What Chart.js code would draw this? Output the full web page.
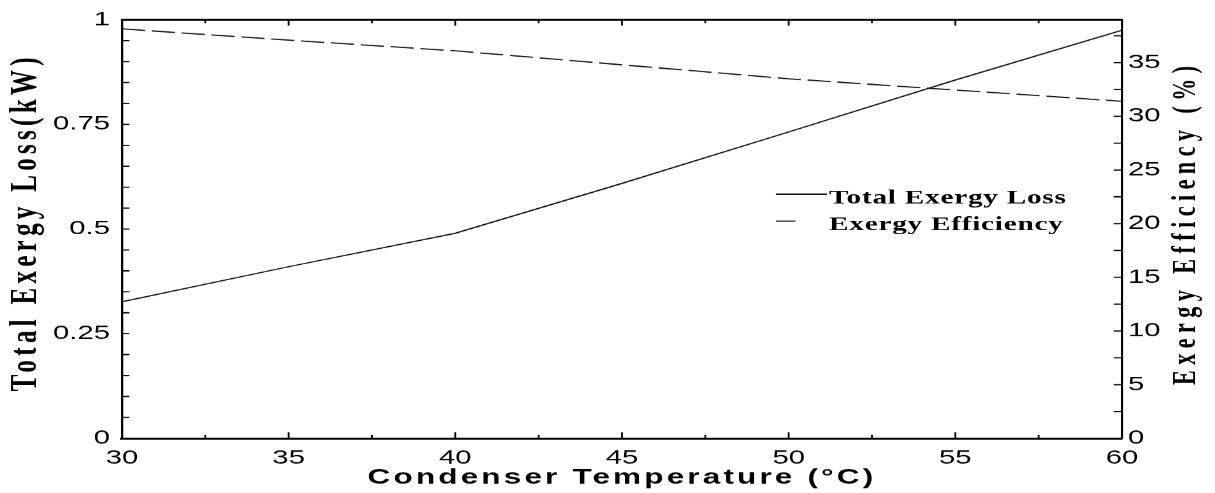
<!DOCTYPE html>
<html>
<head>
<meta charset="utf-8">
<title>Exergy vs Condenser Temperature</title>
<script src="https://cdn.jsdelivr.net/npm/chart.js@4.4.1/dist/chart.umd.min.js"></script>
<style>
  html, body { margin: 0; padding: 0; background: #fff; overflow: hidden; }
  /* the original figure is stretched sideways, so draw narrow and widen it */
  #wrap { width: 810px; height: 493px; transform: scaleX(1.5); transform-origin: 0 0; }
</style>
</head>
<body>
<div id="wrap"><canvas id="exergyChart" width="810" height="493"></canvas></div>
<script>
// data
const condenserTemps = [30, 35, 40, 45, 50, 55, 60];
const totalExergyLoss = [0.326, 0.410, 0.490, 0.609, 0.732, 0.856, 0.975];
const exergyEfficiency = [38.15, 37.1, 36.1, 34.8, 33.5, 32.45, 31.4];

const tempTicks = [30, 35, 40, 45, 50, 55, 60];
const lossTicks = [0, 0.25, 0.5, 0.75, 1];
const efficiencyTicks = [0, 5, 10, 15, 20, 25, 30, 35];

const tempRange = [30, 60];
const lossRange = [0, 1];
const efficiencyRange = [0, 39];

const xTitle = 'Condenser Temperature (°C)';
const yTitle = 'Total Exergy Loss(kW)';
const y1Title = 'Exergy Efficiency (%)';

const tickFont = { family: '"Liberation Sans", Arial, sans-serif', size: 19.5 };

// box on top, inward minor/major ticks, axis titles and legend (Matlab look)
const matlabFrame = {
  id: 'matlabFrame',
  afterDraw(chart) {
    const { ctx, chartArea: a, scales: { x, y, y1 } } = chart;
    ctx.save();
    ctx.strokeStyle = '#000';
    ctx.lineWidth = 2;
    ctx.beginPath();
    ctx.moveTo(a.left - 0.7, a.top);
    ctx.lineTo(a.right + 0.7, a.top);
    ctx.stroke();

    ctx.lineWidth = 1.2;
    ctx.beginPath();
    for (let v = x.min; v <= x.max + 1e-9; v += 2.5) {
      const px = x.getPixelForValue(v);
      const len = Math.abs(v % 5) < 1e-9 ? 6 : 3.5;
      ctx.moveTo(px, a.bottom);
      ctx.lineTo(px, a.bottom - len);
      ctx.moveTo(px, a.top);
      ctx.lineTo(px, a.top + len);
    }
    for (let v = y.min + 0.05; v < y.max - 1e-9; v += 0.05) {
      const py = y.getPixelForValue(v);
      ctx.moveTo(a.left, py);
      ctx.lineTo(a.left + 5, py);
    }
    for (let v = y1.min + 2.5; v < y1.max - 1e-9; v += 2.5) {
      const py = y1.getPixelForValue(v);
      ctx.moveTo(a.right, py);
      ctx.lineTo(a.right - 5.5, py);
    }
    ctx.stroke();

    ctx.fillStyle = '#000';
    // x title
    ctx.font = 'bold 21px "Liberation Sans", Arial, sans-serif';
    ctx.letterSpacing = '2.1px';
    ctx.textAlign = 'center';
    ctx.textBaseline = 'alphabetic';
    ctx.fillText(xTitle, (a.left + a.right) / 2, 483.5);

    // left title
    ctx.save();
    ctx.font = 'bold 25px "Liberation Serif", "Times New Roman", serif';
    ctx.letterSpacing = '4.3px';
    ctx.translate(24, 222);
    ctx.rotate(-Math.PI / 2);
    ctx.fillText(yTitle, 0, 0);
    ctx.restore();

    // right title
    ctx.save();
    ctx.font = 'bold 22px "Liberation Serif", "Times New Roman", serif';
    ctx.letterSpacing = '5.5px';
    ctx.translate(796.7, 222.5);
    ctx.rotate(-Math.PI / 2);
    ctx.fillText(y1Title, 0, 0);
    ctx.restore();

    // legend
    ctx.font = 'bold 19.5px "Liberation Serif", "Times New Roman", serif';
    ctx.letterSpacing = '0.5px';
    ctx.textAlign = 'left';
    chart.data.datasets.forEach((ds, i) => {
      const ly = 194 + i * 27;
      ctx.strokeStyle = ds.borderColor;
      ctx.lineWidth = ds.borderWidth;
      ctx.setLineDash(ds.borderDash ? [13, 40] : []);
      ctx.beginPath();
      ctx.moveTo(517.3, ly);
      ctx.lineTo(551.3, ly);
      ctx.stroke();
      ctx.fillText(ds.label, 552.7, ly + 9.3);
    });
    ctx.restore();
  }
};

const plainNumber = value => String(value);

new Chart(document.getElementById('exergyChart'), {
  type: 'line',
  data: {
    labels: condenserTemps,
    datasets: [
      {
        label: 'Total Exergy Loss',
        data: condenserTemps.map((t, i) => ({ x: t, y: totalExergyLoss[i] })),
        yAxisID: 'y',
        borderColor: '#111',
        borderWidth: 1.2,
        pointRadius: 0,
        fill: false,
        tension: 0
      },
      {
        label: 'Exergy Efficiency',
        data: condenserTemps.map((t, i) => ({ x: t, y: exergyEfficiency[i] })),
        yAxisID: 'y1',
        borderColor: '#111',
        borderWidth: 1.2,
        borderDash: [15.5, 4.5],
        pointRadius: 0,
        fill: false,
        tension: 0
      }
    ]
  },
  options: {
    responsive: false,
    devicePixelRatio: 1.5,
    animation: false,
    layout: { padding: { top: 17, left: 0, right: 0, bottom: 0 } },
    plugins: {
      legend: { display: false },
      tooltip: { enabled: false }
    },
    scales: {
      x: {
        type: 'linear',
        min: tempRange[0],
        max: tempRange[1],
        afterBuildTicks: s => { s.ticks = tempTicks.map(v => ({ value: v })); },
        afterFit: s => { s.height = 55; },
        grid: { display: false, drawTicks: false },
        border: { display: true, color: '#000', width: 2 },
        ticks: { font: tickFont, color: '#000', padding: 8, maxRotation: 0, callback: plainNumber }
      },
      y: {
        type: 'linear',
        position: 'left',
        min: lossRange[0],
        max: lossRange[1],
        afterBuildTicks: s => { s.ticks = lossTicks.map(v => ({ value: v })); },
        afterFit: s => { s.width = 81.3; },
        grid: { display: false, drawTicks: false },
        border: { display: true, color: '#000', width: 1.5 },
        ticks: { font: tickFont, color: '#000', padding: 8, callback: plainNumber }
      },
      y1: {
        type: 'linear',
        position: 'right',
        min: efficiencyRange[0],
        max: efficiencyRange[1],
        afterBuildTicks: s => { s.ticks = efficiencyTicks.map(v => ({ value: v })); },
        afterFit: s => { s.width = 62; },
        grid: { display: false, drawTicks: false },
        border: { display: true, color: '#000', width: 1.4 },
        ticks: { font: tickFont, color: '#000', padding: 4, callback: plainNumber }
      }
    }
  },
  plugins: [matlabFrame]
});
</script>
</body>
</html>
